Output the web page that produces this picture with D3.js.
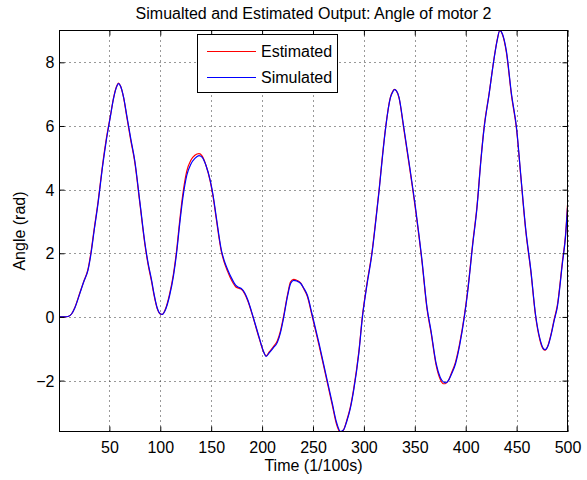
<!DOCTYPE html>
<html>
<head>
<meta charset="utf-8">
<script src="https://cdnjs.cloudflare.com/ajax/libs/d3/7.8.5/d3.min.js"></script>
<style>
  html, body { margin: 0; padding: 0; background: #fff; }
  svg { display: block; font-family: "Liberation Sans", Arial, Helvetica, sans-serif; }
</style>
</head>
<body>
<svg id="chart" width="587" height="480"></svg>
<script>
// ---- data ----
const time = [1, 6, 10, 13, 16, 21, 25, 29, 32, 35, 39, 43, 47, 51, 54, 57, 59, 61, 64, 67, 71, 75, 80, 85, 88, 91.5, 94, 97, 100, 102, 105, 109, 113, 116, 119, 122, 126, 130, 134, 138, 141, 145, 149, 152, 155, 160, 163, 166, 170, 174, 177, 180, 183, 186, 191, 197, 201, 204, 207, 211, 215, 218, 221, 225, 228, 231, 234, 238, 241, 244.5, 249, 256, 262.5, 269, 273, 277, 280, 283, 286.5, 290, 295, 298.6, 303, 308, 312, 315, 318, 321.5, 326, 328.5, 330, 332, 334.5, 339, 344, 351, 357, 362, 366, 371, 375, 378, 380, 383, 386, 390, 394, 398.7, 402, 407, 411, 415, 418, 423, 428, 431, 433.5, 436, 440, 445, 450, 454, 459, 464, 468.5, 473, 476, 478, 481, 484, 487, 490, 495, 498, 500];

const simulated = [0, 0, 0.02, 0.1, 0.28, 0.74, 1.12, 1.47, 2.0, 2.7, 3.6, 4.65, 5.55, 6.3, 6.85, 7.22, 7.33, 7.25, 6.9, 6.35, 5.6, 4.9, 3.6, 2.3, 1.7, 1.15, 0.7, 0.28, 0.1, 0.08, 0.22, 0.65, 1.3, 2.0, 2.9, 3.7, 4.45, 4.8, 4.98, 5.07, 5.02, 4.75, 4.3, 3.8, 3.14, 2.1, 1.75, 1.5, 1.22, 1.0, 0.93, 0.88, 0.75, 0.53, 0.02, -0.63, -1.05, -1.24, -1.13, -0.97, -0.8, -0.5, -0.05, 0.65, 1.05, 1.15, 1.13, 1.05, 0.9, 0.68, 0.1, -0.84, -1.78, -2.72, -3.3, -3.6, -3.55, -3.3, -2.9, -2.3, -1.15, 0, 1.0, 2.0, 3.1, 3.98, 4.95, 5.97, 6.88, 7.08, 7.14, 7.1, 6.9, 6.0, 4.93, 3.36, 1.8, 0.3, -0.45, -1.47, -1.9, -2.04, -2.07, -2.0, -1.8, -1.47, -0.9, 0, 0.8, 2.3, 3.4, 4.93, 5.9, 7.0, 8.14, 8.7, 9.0, 8.9, 8.35, 7.0, 5.93, 4.5, 2.75, 1.47, 0.1, -0.7, -0.98, -1.03, -0.9, -0.55, -0.1, 0.31, 1.68, 2.5, 3.42];

const estimated = [0, 0, 0.02, 0.1, 0.29, 0.76, 1.13, 1.5, 2.05, 2.75, 3.65, 4.7, 5.6, 6.32, 6.87, 7.24, 7.35, 7.25, 6.88, 6.3, 5.55, 4.85, 3.55, 2.25, 1.65, 1.1, 0.66, 0.26, 0.09, 0.08, 0.24, 0.7, 1.36, 2.08, 3.0, 3.82, 4.58, 4.92, 5.08, 5.13, 5.06, 4.75, 4.27, 3.75, 3.08, 2.05, 1.7, 1.44, 1.15, 0.95, 0.9, 0.86, 0.72, 0.5, 0.0, -0.66, -1.06, -1.22, -1.1, -0.94, -0.75, -0.45, 0.0, 0.7, 1.1, 1.18, 1.15, 1.06, 0.88, 0.64, 0.05, -0.9, -1.84, -2.78, -3.36, -3.63, -3.55, -3.27, -2.86, -2.25, -1.1, 0.05, 1.05, 2.05, 3.15, 4.02, 5.0, 6.0, 6.9, 7.1, 7.15, 7.1, 6.88, 5.95, 4.88, 3.3, 1.75, 0.25, -0.5, -1.52, -1.96, -2.1, -2.1, -2.0, -1.76, -1.42, -0.85, 0.05, 0.85, 2.35, 3.45, 4.98, 5.95, 7.02, 8.16, 8.72, 9.0, 8.88, 8.3, 6.95, 5.88, 4.45, 2.7, 1.42, 0.06, -0.74, -1.0, -1.04, -0.88, -0.52, -0.06, 0.36, 1.74, 2.56, 3.51];

const xTicks = [50, 100, 150, 200, 250, 300, 350, 400, 450, 500];
const yTicks = [-2, 0, 2, 4, 6, 8];
const seriesNames = ["Estimated", "Simulated"];
const seriesColors = ["#ff0000", "#0000ff"];
const titleText = "Simualted and Estimated Output: Angle of motor 2";
const xLabel = "Time (1/100s)";
const yLabel = "Angle (rad)";

// ---- layout ----
const svg = d3.select("#chart");
const L = 59.5, R = 567.5, T = 30.5, B = 431.5;
const x = d3.scaleLinear().domain([1, 500]).range([L, R]);
const y = d3.scaleLinear().domain([-3.6, 9.0]).range([B, T]);
const fmt = d3.format("");

svg.append("rect").attr("x", 0).attr("y", 0).attr("width", 587).attr("height", 480).attr("fill", "#fff");

// grid
const grid = svg.append("g").attr("stroke", "#333").attr("stroke-width", 1).attr("stroke-dasharray", "1,4");
grid.selectAll("line.gx").data(xTicks).join("line")
  .attr("x1", d => Math.round(x(d)) + 0.5).attr("x2", d => Math.round(x(d)) + 0.5)
  .attr("y1", T).attr("y2", B);
grid.selectAll("line.gy").data(yTicks).join("line")
  .attr("y1", d => Math.round(y(d)) + 0.5).attr("y2", d => Math.round(y(d)) + 0.5)
  .attr("x1", L).attr("x2", R);

// clip
svg.append("clipPath").attr("id", "clip").append("rect")
  .attr("x", L).attr("y", T).attr("width", R - L).attr("height", B - T);

const line = d3.line().curve(d3.curveMonotoneX);
const plot = svg.append("g").attr("clip-path", "url(#clip)");
[estimated, simulated].forEach((vals, i) => {
  plot.append("path")
    .attr("d", line(time.map((t, k) => [x(t), y(vals[k])])))
    .attr("fill", "none")
    .attr("stroke", seriesColors[i])
    .attr("stroke-width", 1.2);
});

// axes with inner ticks
const tickLen = 5;
const axB = d3.axisBottom(x).tickValues(xTicks).tickSize(-tickLen).tickPadding(10).tickFormat(fmt);
const axT = d3.axisTop(x).tickValues(xTicks).tickSize(-tickLen).tickFormat("");
const axL = d3.axisLeft(y).tickValues(yTicks).tickSize(-tickLen).tickPadding(10).tickFormat(fmt);
const axR = d3.axisRight(y).tickValues(yTicks).tickSize(-tickLen).tickFormat("");

function style(g) {
  g.select(".domain").remove();
  g.selectAll(".tick line").attr("stroke", "#000");
  g.selectAll(".tick text").attr("fill", "#000").attr("font-size", 16)
    .attr("font-family", "Liberation Sans, Arial, sans-serif");
}
svg.append("g").attr("transform", `translate(0,${B})`).call(axB).call(style)
  .selectAll(".tick text").attr("dy", null).attr("y", 21);
svg.append("g").attr("transform", `translate(0,${T})`).call(axT).call(style);
svg.append("g").attr("transform", `translate(${L},0)`).call(axL).call(style)
  .selectAll(".tick text").attr("x", -5).attr("dy", "0.35em");
svg.append("g").attr("transform", `translate(${R},0)`).call(axR).call(style);

// frame
svg.append("rect").attr("x", L).attr("y", T).attr("width", R - L).attr("height", B - T)
  .attr("fill", "none").attr("stroke", "#000").attr("stroke-width", 1);

// title and labels
svg.append("text").attr("x", (L + R) / 2).attr("y", 19).attr("text-anchor", "middle")
  .attr("font-size", 16).attr("fill", "#000").text(titleText);
svg.append("text").attr("x", (L + R) / 2).attr("y", 471).attr("text-anchor", "middle")
  .attr("font-size", 16).attr("fill", "#000").text(xLabel);
svg.append("text").attr("transform", `translate(25,${(T + B) / 2}) rotate(-90)`)
  .attr("text-anchor", "middle").attr("font-size", 16).attr("fill", "#000").text(yLabel);

// legend
const lg = svg.append("g");
lg.append("rect").attr("x", 197.5).attr("y", 34.5).attr("width", 140).attr("height", 58)
  .attr("fill", "#fff").attr("stroke", "#000").attr("stroke-width", 1);
seriesNames.forEach((name, i) => {
  const yy = 51.5 + i * 26;
  lg.append("line").attr("x1", 207).attr("x2", 256).attr("y1", yy).attr("y2", yy)
    .attr("stroke", seriesColors[i]).attr("stroke-width", 1.2);
  lg.append("text").attr("x", 261).attr("y", yy + 5.8).attr("font-size", 16)
    .attr("fill", "#000").text(name);
});
</script>
</body>
</html>
